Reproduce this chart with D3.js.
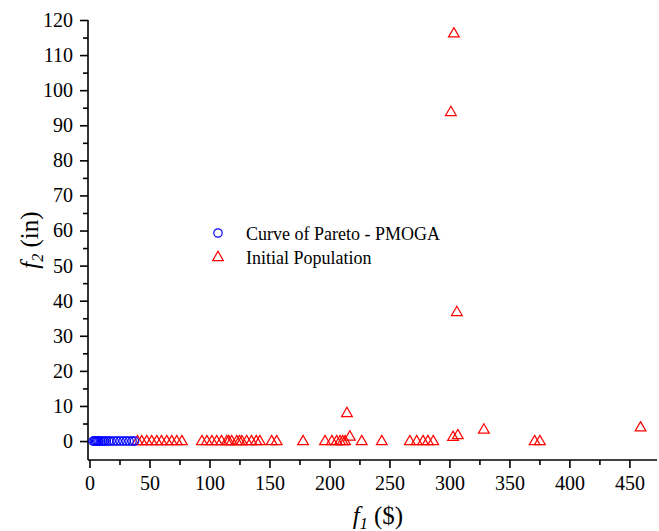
<!DOCTYPE html>
<html><head><meta charset="utf-8">
<script src="https://cdn.jsdelivr.net/npm/d3@7"></script>
<style>body{margin:0;background:#fff}</style>
</head><body>
<svg id="c" width="659" height="531"></svg>
<script>
const paretoF1 = [3,4,5,6,7,8,9.5,11,12.5,14,16,18,20.5,23,25.5,28,30.5,33,35.5,37.5];
const paretoF2 = [0,0,0,0,0,0,0,0,0,0,0,0,0,0,0,0,0,0,0,0];
const initF1 = [40,43.5,47.7,51.8,56,60,64.4,68.5,72.7,77,93.7,97.8,102,106,110,114.4,116,118.5,122.7,125,127,131,135,139,142,151.8,156,178,196.3,202,206,208.8,211,213,214.6,217,226.9,243.6,267,272.7,278,282,286.5,301.2,303.7,303,306.2,307,328.7,371,375.4,459.3];
const initF2 = [0,0,0,0,0,0,0,0,0,0,0,0,0,0,0,0,0,0,0,0,0,0,0,0,0,0,0,0,0,0,0,0,0,0,8.0,1.3,0,0,0,0,0,0,0,93.8,116.2,1.2,36.8,1.7,3.3,0,0,3.9];
const xTicks = [0,50,100,150,200,250,300,350,400,450];
const yTicks = [0,10,20,30,40,50,60,70,80,90,100,110,120];
const legendLabels = ["Curve of Pareto - PMOGA","Initial Population"];

const svg = d3.select("#c");
const font = "'Liberation Serif', 'Times New Roman', serif";
const x = d3.scaleLinear().domain([-1.25,473]).range([88,657]);
const y = d3.scaleLinear().domain([-5.4,120]).range([460,20]);

const gx = svg.append("g").attr("transform","translate(0,460)")
  .call(d3.axisBottom(x).tickValues(xTicks).tickSize(8).tickPadding(8).tickFormat(d3.format("d")));
const gxm = svg.append("g").attr("transform","translate(0,460)")
  .call(d3.axisBottom(x).tickValues(d3.range(25,475,50)).tickSize(5).tickFormat(""));
const gy = svg.append("g").attr("transform","translate(88,0)")
  .call(d3.axisLeft(y).tickValues(yTicks).tickSize(8).tickPadding(7).tickFormat(d3.format("d")));
const gym = svg.append("g").attr("transform","translate(88,0)")
  .call(d3.axisLeft(y).tickValues(d3.range(5,120,10)).tickSize(5).tickFormat(""));
[gx,gxm,gy,gym].forEach(g=>{
  g.selectAll("path.domain").attr("stroke","#000").attr("stroke-width",1.6);
  g.selectAll(".tick line").attr("stroke","#000").attr("stroke-width",1.6);
  g.selectAll("text").attr("font-family",font).attr("font-size",20).attr("fill","#000");
});
gx.select("path.domain").attr("d","M88,0H657");
gy.select("path.domain").attr("d","M0,460V20");
gym.select("path.domain").remove(); gxm.select("path.domain").remove();

const tri = d3.symbol().type(d3.symbolTriangle).size(50);
svg.append("g").selectAll("path").data(initF1).join("path")
  .attr("d",tri)
  .attr("transform",(d,i)=>`translate(${x(d)},${y(initF2[i])+0.5})`)
  .attr("fill","none").attr("stroke","#ff0000").attr("stroke-width",1.2);
svg.append("g").selectAll("circle").data(paretoF1).join("circle")
  .attr("cx",d=>x(d)).attr("cy",(d,i)=>y(paretoF2[i]))
  .attr("r",4.2).attr("fill","none").attr("stroke","#0000ff").attr("stroke-width",1.2);

// legend
const lg = svg.append("g");
lg.append("circle").attr("cx",218).attr("cy",233).attr("r",4.2).attr("fill","none").attr("stroke","#0000ff").attr("stroke-width",1.2);
lg.append("path").attr("d",tri).attr("transform","translate(218,257.5)").attr("fill","none").attr("stroke","#ff0000").attr("stroke-width",1.2);
lg.selectAll("text").data(legendLabels).join("text")
  .attr("x",246).attr("y",(d,i)=>240+i*24)
  .attr("font-family",font).attr("font-size",18).text(d=>d);

// axis titles
const xt = svg.append("text").attr("x",378).attr("y",524).attr("text-anchor","middle")
  .attr("font-family",font).attr("font-size",25);
xt.append("tspan").attr("font-style","italic").text("f");
xt.append("tspan").attr("font-style","italic").attr("font-size",16).attr("dy",5).text("1");
xt.append("tspan").attr("dy",-5).text(" ($)");
const yt = svg.append("text").attr("transform","translate(38,240) rotate(-90)").attr("text-anchor","middle")
  .attr("font-family",font).attr("font-size",25);
yt.append("tspan").attr("font-style","italic").text("f");
yt.append("tspan").attr("font-style","italic").attr("font-size",16).attr("dy",5).text("2");
yt.append("tspan").attr("dy",-5).text(" (in)");
</script>
</body></html>
